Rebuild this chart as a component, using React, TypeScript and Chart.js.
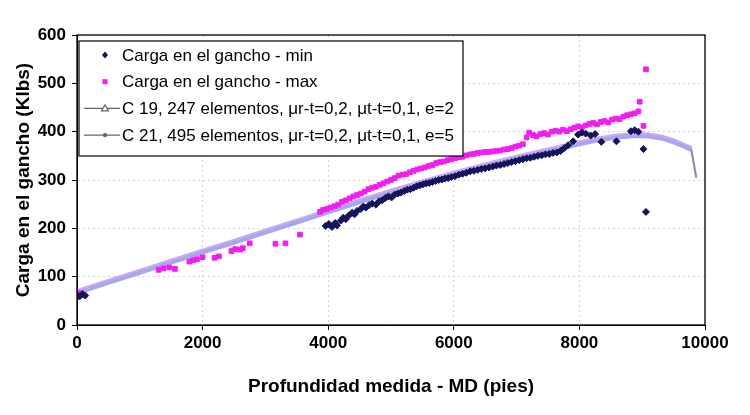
import React, { useEffect, useRef } from 'react';
import { Chart, registerables } from 'chart.js';

Chart.register(...registerables);

const FONT = '"Liberation Sans", Arial, Helvetica, sans-serif';

// Axis ticks
const xTicksMin = 0;
const xTicksMax = 10000;
const xTickStep = 2000;
const yTicksMin = 0;
const yTicksMax = 600;
const yTickStep = 100;

// Series labels
const labelMin = 'Carga en el gancho - min';
const labelMax = 'Carga en el gancho - max';
const labelC19 = 'C 19, 247 elementos, μr-t=0,2, μt-t=0,1, e=2';
const labelC21 = 'C 21, 495 elementos, μr-t=0,2, μt-t=0,1, e=5';

// Hook load - min (depth ft, load klbs)
const minDepth = [
  0, 40, 90, 130,
  3960, 4010, 4060, 4110, 4140, 4200, 4240, 4280, 4330, 4380, 4420, 4460, 4520, 4560, 4600, 4650,
  4700, 4760, 4810, 4860, 4910, 4960, 5010, 5060, 5110, 5160, 5210, 5260, 5310, 5360, 5410, 5460,
  5510, 5560, 5610, 5660, 5710, 5760, 5810, 5860, 5910, 5960, 6020, 6080, 6140, 6200, 6260, 6320,
  6380, 6440, 6500, 6560, 6620, 6680, 6740, 6800, 6860, 6920, 6980, 7040, 7100, 7160, 7220, 7280,
  7340, 7400, 7460, 7520, 7580, 7640, 7700, 7760, 7820, 7900, 7980, 8040, 8100, 8180, 8250, 8350,
  8590, 8820, 8880, 8940, 9020, 9060,
];
const minLoad = [
  62, 59, 64, 61,
  205, 209, 203, 211, 206, 216, 222, 219, 227, 232, 229, 236, 240, 245, 243, 248,
  251, 249, 256, 258, 263, 266, 264, 270, 272, 274, 277, 280, 281, 284, 287, 289,
  291, 293, 294, 296, 298, 300, 301, 303, 304, 306, 308, 311, 313, 315, 318, 319,
  321, 323, 324, 326, 328, 330, 331, 333, 335, 337, 339, 341, 343, 345, 346, 348,
  350, 351, 353, 354, 356, 357, 360, 366, 372, 380, 394, 398, 396, 392, 395, 379,
  380, 401, 403, 400, 364, 234,
];

// Hook load - max
const maxDepth = [
  30, 1300, 1380, 1470, 1560, 1790, 1850, 1910, 2000, 2190, 2260, 2460, 2520, 2600, 2640, 2750,
  3160, 3320, 3550,
  3870, 3920, 3980, 4040, 4100, 4160, 4220, 4280, 4340, 4400, 4460, 4520, 4580, 4640, 4700, 4760,
  4820, 4880, 4940, 5000, 5060, 5120, 5180, 5240, 5300, 5360, 5420, 5480, 5540, 5600, 5660, 5720,
  5780, 5840, 5900, 5960, 6020, 6080, 6140, 6200, 6260, 6320, 6380, 6440, 6500, 6560, 6620, 6680,
  6740, 6800, 6860, 6920, 6980, 7040, 7100, 7160, 7200, 7260, 7320, 7380, 7440, 7500, 7560, 7620,
  7680, 7740, 7800, 7860, 7920, 7980, 8040, 8100, 8160, 8220, 8280, 8340, 8400, 8460, 8520, 8580,
  8640, 8700, 8760, 8820, 8880, 8940, 8960, 9020, 9060,
];
const maxLoad = [
  66, 114, 117, 119, 116, 131, 134, 136, 140, 139, 142, 153, 157, 156, 159, 169,
  168, 169, 187,
  234, 238, 240, 243, 246, 249, 255, 258, 262, 266, 269, 272, 276, 281, 284, 286,
  290, 293, 297, 300, 304, 309, 311, 312, 316, 319, 322, 324, 326, 329, 331, 335,
  337, 338, 341, 343, 345, 347, 348, 351, 353, 354, 356, 357, 358, 358, 359, 360,
  361, 363, 364, 366, 369, 371, 374, 388, 398, 393, 390, 395, 397, 394, 400, 402,
  400, 404, 401, 405, 408, 411, 409, 413, 416, 418, 415, 420, 422, 419, 425, 427,
  426, 431, 434, 436, 438, 442, 462, 412, 529,
];

// Model C 19
const c19Depth = [0, 500, 1000, 1500, 2000, 2500, 3000, 3500, 4000, 4500, 5000, 5500, 6000, 6500, 7000, 7500, 8000, 8300, 8600, 8900, 9100, 9300, 9500, 9650, 9780, 9860];
const c19Load = [69, 90, 111, 132, 153, 173, 194, 215, 236, 257, 277, 296, 314, 331, 347, 362, 377, 385, 391, 394, 393, 389, 381, 373, 365, 307];

// Model C 21
const c21Depth = [0, 500, 1000, 1500, 2000, 2500, 3000, 3500, 4000, 4500, 5000, 5500, 6000, 6500, 7000, 7500, 8000, 8300, 8600, 8900, 9100, 9300, 9500, 9650, 9780, 9860];
const c21Load = [66, 87, 108, 129, 150, 170, 191, 212, 233, 254, 274, 293, 311, 328, 344, 359, 374, 382, 388, 391, 390, 386, 378, 370, 362, 304];

const toPoints = (xs: number[], ys: number[]) => xs.map((x, i) => ({ x, y: ys[i] }));

const framePlugin = {
  id: 'frame',
  afterDatasetsDraw(chart: any) {
    const { ctx, chartArea } = chart;
    ctx.save();
    ctx.strokeStyle = '#000';
    ctx.lineWidth = 1.3;
    ctx.strokeRect(chartArea.left, chartArea.top, chartArea.right - chartArea.left, chartArea.bottom - chartArea.top);
    ctx.restore();
  },
};

const legendPlugin = {
  id: 'boxLegend',
  afterDraw(chart: any) {
    const { ctx, chartArea } = chart;
    const left = chartArea.left + 2;
    const top = chartArea.top + 6;
    const width = 384;
    const height = 115;
    ctx.save();
    ctx.fillStyle = '#fff';
    ctx.fillRect(left, top, width, height);
    ctx.strokeStyle = '#000';
    ctx.lineWidth = 1.2;
    ctx.strokeRect(left, top, width, height);
    const ds = chart.data.datasets;
    const rowH = 26.7;
    ds.forEach((d: any, i: number) => {
      const cy = top + 14 + i * rowH;
      const mx = left + 26;
      if (d.legendKind === 'diamond') {
        ctx.fillStyle = d.backgroundColor;
        ctx.beginPath();
        ctx.moveTo(mx, cy - 3.5);
        ctx.lineTo(mx + 3, cy);
        ctx.lineTo(mx, cy + 3.5);
        ctx.lineTo(mx - 3, cy);
        ctx.closePath();
        ctx.fill();
      } else if (d.legendKind === 'square') {
        ctx.fillStyle = d.backgroundColor;
        ctx.fillRect(mx - 2.5, cy - 2.5, 5, 5);
      } else {
        ctx.strokeStyle = '#666';
        ctx.lineWidth = 1.2;
        ctx.beginPath();
        ctx.moveTo(left + 5, cy);
        ctx.lineTo(left + 41, cy);
        ctx.stroke();
        if (d.legendKind === 'triangle') {
          ctx.fillStyle = '#fff';
          ctx.beginPath();
          ctx.moveTo(mx - 3.5, cy + 2.5);
          ctx.lineTo(mx + 3.5, cy + 2.5);
          ctx.lineTo(mx, cy - 3.5);
          ctx.closePath();
          ctx.fill();
          ctx.stroke();
        } else {
          ctx.fillStyle = '#666';
          ctx.beginPath();
          ctx.arc(mx, cy, 2.2, 0, Math.PI * 2);
          ctx.fill();
        }
      }
      ctx.fillStyle = '#000';
      ctx.font = `17px ${FONT}`;
      ctx.textBaseline = 'middle';
      ctx.textAlign = 'left';
      ctx.fillText(d.label, left + 43, cy + 1);
    });
    ctx.restore();
  },
};

export default function App() {
  const ref = useRef<HTMLCanvasElement>(null);

  useEffect(() => {
    if (!ref.current) return;
    const lastIdx = c19Depth.length - 1;
    const chart = new Chart(ref.current, {
      type: 'scatter',
      data: {
        datasets: [
          {
            label: labelMin,
            data: toPoints(minDepth, minLoad),
            backgroundColor: '#14145a',
            borderColor: '#14145a',
            pointStyle: 'rectRot',
            pointRadius: 3.5,
            showLine: false,
            order: 0,
            legendKind: 'diamond',
          } as any,
          {
            label: labelMax,
            data: toPoints(maxDepth, maxLoad),
            backgroundColor: '#f01ef0',
            borderColor: '#f01ef0',
            pointStyle: 'rect',
            pointRadius: 3.3,
            showLine: false,
            order: 1,
            legendKind: 'square',
          } as any,
          {
            label: labelC19,
            data: toPoints(c19Depth, c19Load),
            borderColor: '#cfa8f2',
            backgroundColor: '#cfa8f2',
            borderWidth: 5,
            pointRadius: 0,
            showLine: true,
            order: 3,
            legendKind: 'triangle',
            segment: {
              borderColor: (c: any) => (c.p1DataIndex === lastIdx ? '#9a92b8' : undefined),
              borderWidth: (c: any) => (c.p1DataIndex === lastIdx ? 2 : undefined),
            },
          } as any,
          {
            label: labelC21,
            data: toPoints(c21Depth, c21Load),
            borderColor: '#a9a6ee',
            backgroundColor: '#a9a6ee',
            borderWidth: 4,
            pointRadius: 0,
            showLine: true,
            order: 2,
            legendKind: 'dot',
            segment: {
              borderColor: (c: any) => (c.p1DataIndex === lastIdx ? '#8f8aa8' : undefined),
              borderWidth: (c: any) => (c.p1DataIndex === lastIdx ? 1.5 : undefined),
            },
          } as any,
        ],
      },
      options: {
        responsive: true,
        maintainAspectRatio: false,
        animation: false,
        layout: { padding: { top: 35, right: 45, left: 0, bottom: 0 } },
        plugins: {
          legend: { display: false },
          tooltip: { enabled: false },
        },
        scales: {
          x: {
            type: 'linear',
            min: xTicksMin,
            max: xTicksMax,
            ticks: {
              stepSize: xTickStep,
              color: '#000',
              padding: 3,
              font: { family: FONT, size: 17, weight: 'bold' },
              callback: (v: any) => String(v),
            },
            grid: {
              color: '#d4d4d4',
              lineWidth: 1,
              tickLength: 5,
              tickColor: '#000',
              tickBorderDash: [],
            },
            border: { color: '#000', width: 1, dash: [2, 3] },
            title: {
              display: true,
              text: 'Profundidad medida - MD (pies)',
              color: '#000',
              font: { family: FONT, size: 19, weight: 'bold' },
              padding: { top: 0, bottom: 17 },
            },
            afterFit: (s: any) => {
              s.height = 90;
            },
          },
          y: {
            type: 'linear',
            min: yTicksMin,
            max: yTicksMax,
            ticks: {
              stepSize: yTickStep,
              color: '#000',
              padding: 6,
              font: { family: FONT, size: 17, weight: 'bold' },
              callback: (v: any) => String(v),
            },
            grid: {
              color: '#d4d4d4',
              lineWidth: 1,
              tickLength: 5,
              tickColor: '#000',
              tickBorderDash: [],
            },
            border: { color: '#000', width: 1, dash: [2, 3] },
            title: {
              display: true,
              text: 'Carga en el gancho (Klbs)',
              color: '#000',
              font: { family: FONT, size: 19, weight: 'bold' },
              padding: { top: 12, bottom: 0 },
            },
            afterFit: (s: any) => {
              s.width = 77;
            },
          },
        },
      } as any,
      plugins: [framePlugin, legendPlugin],
    });
    return () => chart.destroy();
  }, []);

  return (
    <div style={{ position: 'absolute', left: 0, top: 0, width: 750, height: 415, background: '#fff' }}>
      <canvas ref={ref} />
    </div>
  );
}
